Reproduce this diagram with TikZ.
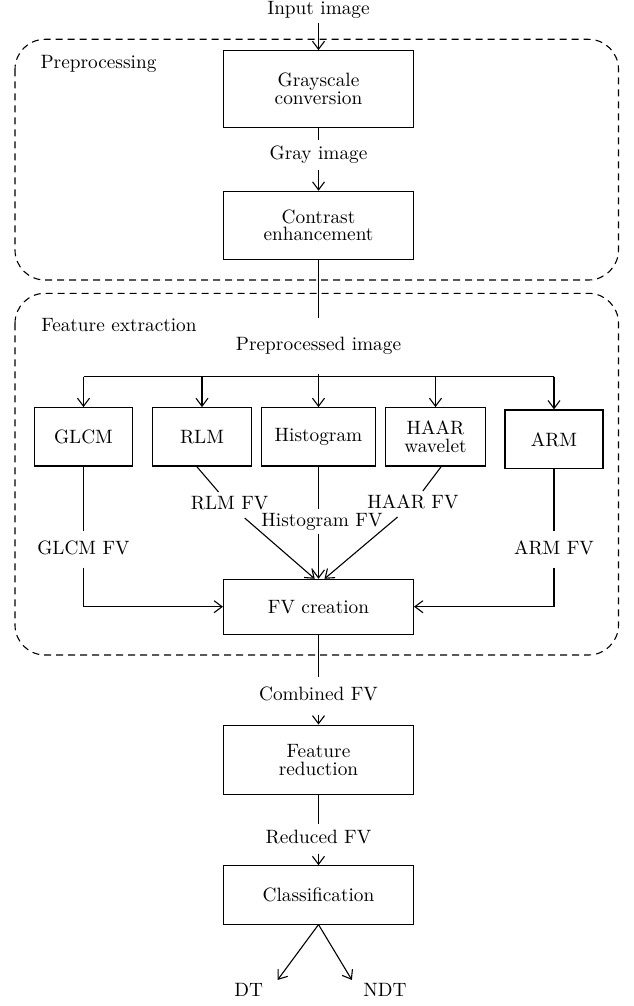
\documentclass[tikz,border=0pt]{standalone}
\usepackage{fontspec}
\setmainfont{lmroman10-regular}[Extension=.otf]
\usetikzlibrary{arrows.meta}
\begin{document}
\begin{tikzpicture}[x=1pt, y=-1pt,
  line width=1.1pt,
  >={Straight Barb[length=8pt,width=12pt]},
  font=\fontsize{19.3pt}{17.7pt}\selectfont,
  blk/.style={draw, rectangle, align=center, inner sep=0pt},
  lbl/.style={inner xsep=3pt, inner ysep=#1, text height=13.2pt, text depth=3.8pt},
  lbl/.default=4pt,
  grouptitle/.style={anchor=west, inner sep=0pt, text height=13.2pt, text depth=3.8pt},
  groupbox/.style={draw, dash pattern=on 7pt off 5pt, rounded corners=30pt}]

\useasboundingbox (0,0) rectangle (633,1006);

% dashed stage frames
\draw[groupbox] (15,39.3) rectangle (618.5,280);
\draw[groupbox] (15,293.3) rectangle (618.5,655);
\node[grouptitle] (pp) at (40,63.5) {Preprocessing};
\node[grouptitle] (fe) at (40.7,327) {Feature extraction};

% preprocessing chain
\node[lbl=4pt] (in) at (318.5,10) {Input image};
\node[blk, minimum width=190pt, minimum height=76.6pt] (gs) at (318.5,89) {Grayscale\\conversion};
\node[lbl=6pt] (gray) at (318.5,155) {Gray image};
\node[blk, minimum width=190pt, minimum height=68pt] (ce) at (318.5,225.3) {Contrast\\enhancement};
\node[lbl=19pt] (pre) at (318.5,346) {Preprocessed image};

\draw[->] (in) -- (gs);
\draw (gs) -- (gray);
\draw[->] (gray) -- (ce);
\draw (ce) -- (pre);

% branch bar
\coordinate (b1) at (83.5,376.7);
\coordinate (b2) at (202,376.7);
\coordinate (b3) at (318.5,376.7);
\coordinate (b4) at (435.5,376.7);
\coordinate (b5) at (554,376.7);
\draw (pre) -- (b3);
\draw (b1) -- (b5);

% feature extractors
\node[blk, minimum width=98.4pt, minimum height=58.3pt] (glcm) at (83.5,436.8) {GLCM};
\node[blk, minimum width=99.4pt, minimum height=58.3pt] (rlm) at (202,436.8) {RLM};
\node[blk, minimum width=114.7pt, minimum height=58.3pt] (hist) at (318.5,436.8) {Histogram};
\node[blk, minimum width=99.6pt, minimum height=58.3pt] (haar) at (435.5,436.8) {HAAR\\wavelet};
\node[blk, minimum width=98pt, minimum height=58.7pt] (arm) at (554,439.3) {ARM};

\draw[->] (b1) -- (glcm);
\draw[->] (b2) -- (rlm);
\draw[->] (b3) -- (hist);
\draw[->] (b4) -- (haar);
\draw[->] (b5) -- (arm);

% feature vector creation
\node[blk, minimum width=190pt, minimum height=54.7pt] (fv) at (318.5,606.7) {FV creation};

\node[lbl=9pt] (gfv) at (83.5,549.5) {GLCM FV};
\node[lbl=9pt] (afv) at (554,549.5) {ARM FV};
\node[lbl=4pt] (rfv) at (229.7,505) {RLM FV};
\node[lbl=3pt] (hfv) at (322,521.5) {Histogram FV};
\node[lbl=4pt] (hrfv) at (413,504) {HAAR FV};

\draw (glcm) -- (gfv);
\draw[->] (gfv) |- (fv.west);
\draw (arm) -- (afv);
\draw[->] (afv) |- (fv.east);

\draw ([xshift=-5.3pt]rlm.south) -- (rfv);
\draw[->] (rfv) -- ([xshift=-3.8pt]fv.north);

\draw (hist) -- (hist |- hfv.north);
\draw[->] (hist |- hfv.south) -- (hist |- fv.north);

\draw ([xshift=5.8pt]haar.south) -- (hrfv);
\draw[->] (hrfv) -- ([xshift=6pt]fv.north);

% reduction and classification
\node[lbl=10.3pt] (cfv) at (318.5,696) {Combined FV};
\node[blk, minimum width=190pt, minimum height=69.3pt] (fr) at (318.5,759.7) {Feature\\reduction};
\node[lbl=5.5pt] (redfv) at (318.5,839) {Reduced FV};
\node[blk, minimum width=190pt, minimum height=58.3pt] (cls) at (318.5,894.9) {Classification};
\node[lbl=3pt] (dt) at (248.7,992) {DT};
\node[lbl=3pt] (ndt) at (385,992) {NDT};

\draw (fv) -- (cfv);
\draw[->] (cfv) -- (fr);
\draw (fr) -- (redfv);
\draw[->] (redfv) -- (cls);
\draw[->] (cls.south) -- ([xshift=11pt]dt.north east);
\draw[->] (cls.south) -- ([xshift=-8pt]ndt.north west);

\end{tikzpicture}
\end{document}
